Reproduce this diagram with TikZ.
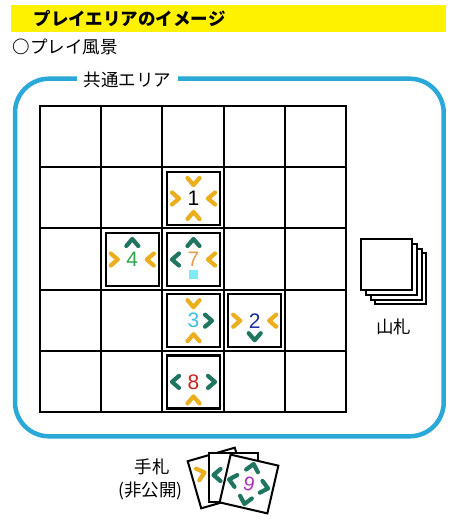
\documentclass[tikz,border=0pt]{standalone}
\usepackage{fontspec}
\setmainfont{Noto Sans CJK JP}
\newfontfamily\numfont{Liberation Sans}
\definecolor{areablue}{HTML}{2AA8D8}
\definecolor{chevyel}{HTML}{EBAE1C}
\definecolor{chevgrn}{HTML}{1F7560}
\definecolor{numgrn}{HTML}{2EA84A}
\definecolor{numtan}{HTML}{E0A050}
\definecolor{numcyan}{HTML}{3EBFE2}
\definecolor{numblue}{HTML}{1A2FA0}
\definecolor{numred}{HTML}{D02020}
\definecolor{nummag}{HTML}{B030C0}
\definecolor{markcyan}{HTML}{7FEAF2}
\tikzset{
  cell/.style={draw,line width=2pt,minimum size=61.2pt,inner sep=0pt},
  tile/.style={draw,line width=2.4pt,fill=white,minimum size=53pt,inner sep=0pt,
    font=\numfont\fontsize{21}{21}\selectfont},
  deckcard/.style={draw,line width=2pt,fill=white,minimum size=51pt,inner sep=0pt},
  handcard/.style={draw,line width=2pt,fill=white,minimum size=49pt,inner sep=0pt,
    transform shape,font=\numfont\fontsize{20}{20}\selectfont},
  chevline/.style={line width=4.2pt,line cap=round,line join=round},
}
% one chevron: colour, offset from the tile centre, direction
\newcommand\chevmark[3]{%
  \begin{scope}[shift={(#2)},rotate=#3]
    \draw[chevline,#1] (-3.5,-6)--(3.5,0)--(-3.5,6);
  \end{scope}}
\begin{document}
\begin{tikzpicture}[x=1pt,y=-1pt,font=\fontsize{17.5}{20}\selectfont]
  \useasboundingbox (0,0) rectangle (464,526);
  % heading
  \fill[yellow] (11,5) rectangle (446,32.5);
  \node[anchor=west,font=\bfseries\fontsize{17.5}{20}\selectfont] (title) at (30,19) {プレイエリアのイメージ};
  \node[anchor=west] (scene) at (9,47) {{\bfseries ○}プレイ風景};
  % common area
  \draw[areablue,line width=4.5pt,rounded corners=34pt] (15,78.7) rectangle (443.7,436.3);
  \node[fill=white,inner xsep=7pt,inner ysep=2pt] (area) at (127.5,79.5) {共通エリア};
  \foreach \c in {0,...,4}
    \foreach \r in {0,...,4}
      \node[cell] (c\c\r) at ({70.6+61.2*\c},{136.6+61.2*\r}) {};
  % tiles on the board
  \begin{scope}[shift={(193.5,198.5)}]
    \node[tile] (t1) at (0,0) {1};
    \chevmark{chevyel}{0,-17}{270}
    \chevmark{chevyel}{0,17}{90}
    \chevmark{chevyel}{-18,0}{0}
    \chevmark{chevyel}{18,0}{180}
  \end{scope}
  \begin{scope}[shift={(132.3,259.5)}]
    \node[tile,text=numgrn] (t4) at (0,0) {4};
    \chevmark{chevgrn}{0,-17}{90}
    \chevmark{chevyel}{-18,0}{0}
    \chevmark{chevyel}{18,0}{180}
  \end{scope}
  \begin{scope}[shift={(193.5,259.5)}]
    \node[tile,text=numtan] (t7) at (0,0) {7};
    \fill[markcyan] (-4.5,10.5) rectangle (4.5,19.5);
    \chevmark{chevgrn}{0,-17}{90}
    \chevmark{chevgrn}{-18,0}{180}
    \chevmark{chevyel}{18,0}{180}
  \end{scope}
  \begin{scope}[shift={(193.5,320.7)}]
    \node[tile,text=numcyan] (t3) at (0,0) {3};
    \chevmark{chevyel}{0,-17}{270}
    \chevmark{chevyel}{0,17}{90}
    \chevmark{chevgrn}{15,0}{0}
  \end{scope}
  \begin{scope}[shift={(254.7,320.7)}]
    \node[tile,text=numblue] (t2) at (0,0) {2};
    \chevmark{chevgrn}{0,16}{270}
    \chevmark{chevyel}{-18,0}{0}
    \chevmark{chevyel}{18,0}{180}
  \end{scope}
  \begin{scope}[shift={(193.5,381.9)}]
    \node[tile,text=numred] (t8) at (0,0) {8};
    \chevmark{chevyel}{0,18}{90}
    \chevmark{chevgrn}{-18,0}{180}
    \chevmark{chevgrn}{18,0}{0}
  \end{scope}
  % draw pile
  \foreach \d in {14,10.5,5.5,0}
    \node[deckcard] (deck\d) at (386.2+\d,264.2+\d) {};
  \node (decklbl) at (393.5,327) {山札};
  % hand
  \node (handlbl) at (152,467) {手札};
  \node (handsub) at (150.5,491) {(非公開)};
  \begin{scope}[shift={(218,478)},rotate=16]
    \node[handcard] (hA) at (0,0) {};
    \chevmark{chevyel}{-15,-9}{0}
  \end{scope}
  \begin{scope}[shift={(233,477)}]
    \node[handcard] (hB) at (0,0) {};
    \chevmark{chevgrn}{-16,-2}{180}
  \end{scope}
  \begin{scope}[shift={(249,484)},rotate=-13]
    \node[handcard,text=nummag] (hC) at (0,0) {9};
    \chevmark{chevgrn}{0,-17}{90}
    \chevmark{chevgrn}{0,17}{270}
    \chevmark{chevgrn}{-17,0}{180}
    \chevmark{chevgrn}{16,0}{0}
  \end{scope}
\end{tikzpicture}
\end{document}
